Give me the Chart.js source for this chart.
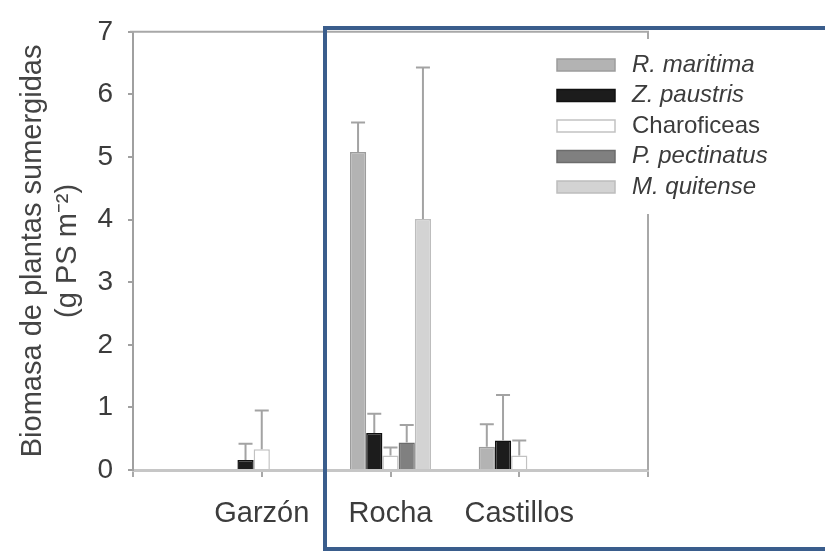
<!DOCTYPE html>
<html>
<head>
<meta charset="utf-8">
<script src="https://cdn.jsdelivr.net/npm/chart.js@4"></script>
<style>
  html, body { margin: 0; padding: 0; background: #fff; }
  canvas { display: block; }
</style>
</head>
<body>
<canvas id="myCanvas" width="825" height="551"></canvas>
<script>
// categories (empty ones pad the axis ends)
const sites = ['', 'Garzón', 'Rocha', 'Castillos', ''];

// series values and their (upper) error bars
const rMaritima = [null, 0, 5.08, 0.37, null];
const rMaritimaErr = [null, 0, 0.47, 0.36, null];
const zPaustris = [null, 0.16, 0.59, 0.47, null];
const zPaustrisErr = [null, 0.26, 0.31, 0.73, null];
const charoficeas = [null, 0.33, 0.23, 0.23, null];
const charoficeasErr = [null, 0.62, 0.13, 0.24, null];
const pPectinatus = [null, 0, 0.44, 0, null];
const pPectinatusErr = [null, 0, 0.28, 0, null];
const mQuitense = [null, 0, 4.01, 0, null];
const mQuitenseErr = [null, 0, 2.42, 0, null];

const seriesNames = ['R. maritima', 'Z. paustris', 'Charoficeas', 'P. pectinatus', 'M. quitense'];
const yTicks = [0, 1, 2, 3, 4, 5, 6, 7];

const fills = ['#b3b3b3', '#1c1c1c', '#ffffff', '#808080', '#d3d3d3'];
const borders = ['#9c9c9c', '#111111', '#c2c2c2', '#6c6c6c', '#bdbdbd'];
const italics = [true, true, false, true, true];

const values = [rMaritima, zPaustris, charoficeas, pPectinatus, mQuitense];
const errs = [rMaritimaErr, zPaustrisErr, charoficeasErr, pPectinatusErr, mQuitenseErr];

const datasets = values.map((v, i) => ({
  label: seriesNames[i],
  data: v,
  errors: errs[i],
  backgroundColor: fills[i],
  borderColor: borders[i],
  borderWidth: 1.5,
  borderSkipped: 'bottom',
  barPercentage: 1,
  categoryPercentage: 0.63
}));

// error bars, frame, legend and the blue box drawn on top
const extras = {
  id: 'extras',
  afterDatasetsDraw(chart) {
    const c = chart.ctx;
    const y = chart.scales.y;
    c.save();
    c.strokeStyle = '#a3a3a3';
    c.lineWidth = 2;
    chart.data.datasets.forEach((ds, di) => {
      const meta = chart.getDatasetMeta(di);
      ds.data.forEach((v, i) => {
        const e = ds.errors[i];
        if (v === null || !e) return;
        const x = meta.data[i].x;
        const y0 = y.getPixelForValue(v);
        const y1 = y.getPixelForValue(v + e);
        c.beginPath();
        c.moveTo(x, y0);
        c.lineTo(x, y1);
        c.moveTo(x - 7, y1);
        c.lineTo(x + 7, y1);
        c.stroke();
      });
    });
    c.restore();
  },
  afterDraw(chart) {
    const c = chart.ctx;
    const a = chart.chartArea;
    c.save();
    // top and right frame
    c.strokeStyle = '#a8a8a8';
    c.lineWidth = 2;
    c.beginPath();
    c.moveTo(a.left - 3, a.top);
    c.lineTo(a.right, a.top);
    c.lineTo(a.right, a.bottom);
    c.stroke();

    // legend
    c.fillStyle = '#ffffff';
    c.fillRect(548, 39, 260, 175);
    chart.data.datasets.forEach((ds, i) => {
      const cy = 65 + i * 30.5;
      c.fillStyle = ds.backgroundColor;
      c.fillRect(557, cy - 6, 58, 12);
      c.strokeStyle = ds.borderColor;
      c.lineWidth = 1.5;
      c.strokeRect(557, cy - 6, 58, 12);
      c.fillStyle = '#3c3c3c';
      c.font = (italics[i] ? 'italic ' : '') + '24px "Liberation Sans", Arial, sans-serif';
      c.textBaseline = 'middle';
      c.textAlign = 'left';
      c.fillText(ds.label, 632, cy);
    });

    // blue box
    c.strokeStyle = '#3a5d8c';
    c.lineWidth = 4;
    c.strokeRect(325, 28, 600, 521);
    c.restore();
  }
};

const ctx = document.getElementById('myCanvas').getContext('2d');
const myChart = new Chart(ctx, {
  type: 'bar',
  data: { labels: sites, datasets: datasets },
  plugins: [extras],
  options: {
    responsive: false,
    animation: false,
    layout: { padding: { top: 21, right: 177, left: 0, bottom: 0 } },
    plugins: { legend: { display: false }, tooltip: { enabled: false } },
    scales: {
      x: {
        offset: false,
        afterFit(scale) { scale.height = 81; },
        border: { color: '#c6c6c6', width: 3 },
        grid: { offset: false, drawOnChartArea: false, color: '#a8a8a8', lineWidth: 2, tickLength: 7 },
        ticks: {
          autoSkip: false, maxRotation: 0, padding: 20, color: '#3c3c3c',
          font: { family: '"Liberation Sans", Arial, sans-serif', size: 29 }
        }
      },
      y: {
        min: 0,
        max: 7,
        afterFit(scale) { scale.width = 133; },
        afterBuildTicks(scale) { scale.ticks = yTicks.map(v => ({ value: v })); },
        border: { color: '#a0a0a0', width: 2 },
        grid: { drawOnChartArea: false, color: '#a0a0a0', lineWidth: 2, tickLength: 5 },
        ticks: {
          padding: 15, color: '#3c3c3c',
          font: { family: '"Liberation Sans", Arial, sans-serif', size: 28 }
        },
        title: {
          display: true,
          text: ['Biomasa de plantas sumergidas', '(g PS m⁻²)'],
          color: '#444444',
          padding: { top: 16 },
          font: { family: '"Liberation Sans", Arial, sans-serif', size: 29, lineHeight: 1.2 }
        }
      }
    }
  }
});
</script>
</body>
</html>
